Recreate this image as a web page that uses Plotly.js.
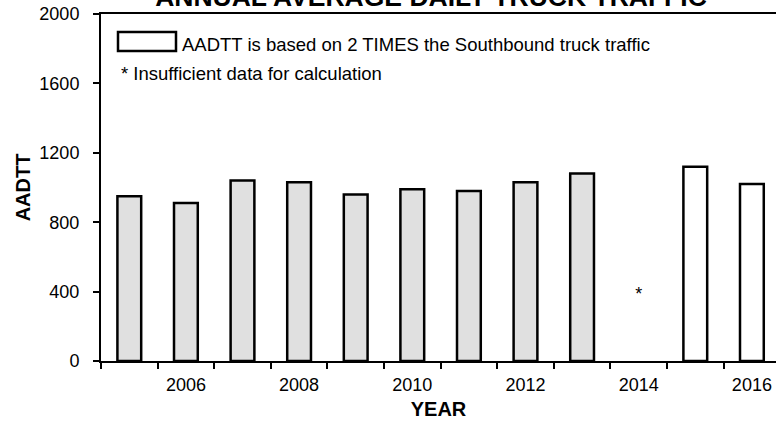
<!DOCTYPE html>
<html>
<head>
<meta charset="utf-8">
<script src="https://cdn.plot.ly/plotly-3.0.1.min.js"></script>
<style>html,body{margin:0;padding:0;background:#fff;}#chart{width:776px;height:425px;}</style>
</head>
<body>
<div id="chart"></div>
<script>
// Data
const years = [2005, 2006, 2007, 2008, 2009, 2010, 2011, 2012, 2013, 2014, 2015, 2016];
const aadtt = [950, 910, 1040, 1030, 960, 990, 980, 1030, 1080, null, 1120, 1020];
const southboundBased = [false, false, false, false, false, false, false, false, false, false, true, true];
const insufficientYears = [2014];
const insufficientMarkY = [375];
const yTickVals = [0, 400, 800, 1200, 1600, 2000];
const xLabelVals = [2006, 2008, 2010, 2012, 2014, 2016];
const xBoundaryTicks = [2004.5, 2005.5, 2006.5, 2007.5, 2008.5, 2009.5, 2010.5, 2011.5, 2012.5, 2013.5, 2014.5, 2015.5];

const FONT = 'Liberation Sans, Arial, sans-serif';

const barColors = southboundBased.map(s => s ? '#ffffff' : '#e0e0e0');

const traces = [
  {
    type: 'bar',
    x: years,
    y: aadtt,
    width: 0.42,
    marker: { color: barColors, line: { color: '#000000', width: 2.5 } },
    showlegend: false,
    hoverinfo: 'x+y'
  },
  {
    type: 'scatter',
    mode: 'text',
    x: insufficientYears,
    y: insufficientMarkY,
    text: insufficientYears.map(() => '*'),
    textfont: { family: FONT, size: 18, color: '#000' },
    textposition: 'middle center',
    showlegend: false,
    hoverinfo: 'skip'
  }
];

const layout = {
  width: 776,
  height: 425,
  margin: { l: 101, r: 0, t: 14, b: 64 },
  paper_bgcolor: '#ffffff',
  plot_bgcolor: '#ffffff',
  font: { family: FONT, size: 18, color: '#000' },
  title: {
    text: '<b>ANNUAL AVERAGE DAILY TRUCK TRAFFIC</b>',
    font: { family: FONT, size: 26.5, color: '#000' },
    xref: 'container', yref: 'container',
    x: 431 / 776, xanchor: 'center',
    y: (425 - 6) / 425, yanchor: 'bottom',
    pad: { t: 0, b: 0, l: 0, r: 0 }
  },
  xaxis: {
    range: [2004.5, 2016.426],
    showgrid: false,
    zeroline: false,
    showline: true,
    linecolor: '#000',
    linewidth: 2,
    mirror: true,
    tickmode: 'array',
    tickvals: xLabelVals,
    ticktext: xLabelVals.map(String),
    ticks: '',
    ticklabelstandoff: 6,
    tickfont: { family: FONT, size: 18, color: '#000' },
    minor: {
      tickmode: 'array',
      tickvals: xBoundaryTicks,
      ticks: 'outside',
      ticklen: 6,
      tickwidth: 2,
      tickcolor: '#000',
      showgrid: false
    },
    title: {
      text: '<b>YEAR</b>',
      font: { family: FONT, size: 20, color: '#000' },
      standoff: 8
    }
  },
  yaxis: {
    range: [0, 2000],
    showgrid: false,
    zeroline: false,
    showline: true,
    linecolor: '#000',
    linewidth: 2,
    tickmode: 'array',
    tickvals: yTickVals,
    ticks: 'outside',
    ticklen: 6,
    tickwidth: 2,
    tickcolor: '#000',
    ticklabelstandoff: 10,
    tickfont: { family: FONT, size: 18, color: '#000' },
    title: {
      text: '<b>AADTT</b>',
      font: { family: FONT, size: 20, color: '#000' },
      standoff: 3
    }
  },
  shapes: [
    {
      type: 'rect', xref: 'paper', yref: 'paper',
      x0: (118 - 101) / 675, x1: (176 - 101) / 675,
      y0: (361 - 51) / 347, y1: (361 - 32) / 347,
      fillcolor: '#ffffff',
      line: { color: '#000', width: 2.5 }
    }
  ],
  annotations: [
    {
      xref: 'paper', yref: 'paper',
      x: (180 - 101) / 675, y: (361 - 44.5) / 347,
      xanchor: 'left', yanchor: 'middle',
      text: 'AADTT is based on 2 TIMES the Southbound truck traffic',
      showarrow: false,
      font: { family: FONT, size: 18.5, color: '#000' }
    },
    {
      xref: 'paper', yref: 'paper',
      x: (119 - 101) / 675, y: (361 - 73) / 347,
      xanchor: 'left', yanchor: 'middle',
      text: '* Insufficient data for calculation',
      showarrow: false,
      font: { family: FONT, size: 18.5, color: '#000' }
    }
  ],
  bargap: 0.58
};

Plotly.newPlot('chart', traces, layout, { displayModeBar: false, staticPlot: true });
</script>
</body>
</html>
